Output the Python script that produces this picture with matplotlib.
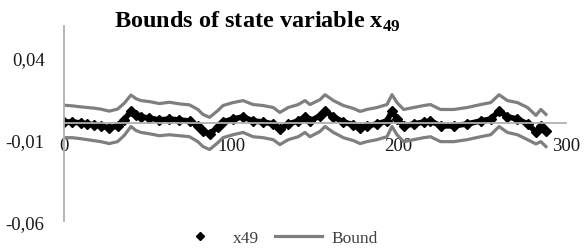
import matplotlib
matplotlib.use('Agg')
import matplotlib.pyplot as plt
from matplotlib.lines import Line2D

plt.rcParams['font.family'] = ['Liberation Serif', 'DejaVu Serif']
plt.rcParams['mathtext.fontset'] = 'custom'
plt.rcParams['mathtext.rm'] = 'Liberation Serif:bold'

# step index and state variable x49 with its bounds
steps = [0, 5, 10, 14, 18, 22, 27, 32, 36, 40, 43, 46, 51, 57, 63, 69, 75, 80, 83, 87,
         92, 95, 101, 107, 113, 119, 125, 129, 134, 140, 144, 147, 153, 156, 161, 167, 173, 177, 181, 187,
         193, 196, 199, 203, 209, 215, 219, 225, 233, 241, 249, 255, 260, 265, 271, 277, 282, 285, 288]
x49 = [0.0006, 0.0006, 0.0000, -0.0006, -0.0012, -0.0018, -0.0030, -0.0018, 0.0020, 0.0073,
       0.0050, 0.0037, 0.0030, 0.0018, 0.0024, 0.0018, 0.0012, -0.0018, -0.0049, -0.0067,
       -0.0024, 0.0006, 0.0024, 0.0037, 0.0012, 0.0006, -0.0006, -0.0037, -0.0006, 0.0012,
       0.0037, 0.0012, 0.0043, 0.0073, 0.0037, 0.0006, -0.0012, -0.0030, -0.0018, -0.0006,
       0.0012, 0.0073, 0.0024, -0.0018, -0.0006, 0.0006, 0.0012, -0.0018, -0.0018, -0.0006,
       0.0012, 0.0024, 0.0073, 0.0037, 0.0024, -0.0006, -0.0055, -0.0018, -0.0049]
upper = [0.0108, 0.0104, 0.0098, 0.0094, 0.0090, 0.0084, 0.0072, 0.0084, 0.0120, 0.0170,
         0.0148, 0.0136, 0.0130, 0.0118, 0.0126, 0.0116, 0.0110, 0.0082, 0.0052, 0.0034,
         0.0076, 0.0106, 0.0124, 0.0136, 0.0112, 0.0106, 0.0094, 0.0064, 0.0094, 0.0112,
         0.0136, 0.0112, 0.0142, 0.0172, 0.0136, 0.0106, 0.0088, 0.0070, 0.0082, 0.0094,
         0.0112, 0.0172, 0.0124, 0.0082, 0.0094, 0.0106, 0.0112, 0.0082, 0.0082, 0.0094,
         0.0112, 0.0124, 0.0172, 0.0136, 0.0124, 0.0094, 0.0046, 0.0082, 0.0052]
lower = [-0.0090, -0.0090, -0.0096, -0.0102, -0.0108, -0.0114, -0.0126, -0.0114, -0.0076, -0.0022,
         -0.0046, -0.0058, -0.0066, -0.0078, -0.0072, -0.0078, -0.0084, -0.0114, -0.0144, -0.0162,
         -0.0120, -0.0090, -0.0072, -0.0058, -0.0084, -0.0090, -0.0102, -0.0132, -0.0102, -0.0084,
         -0.0058, -0.0084, -0.0052, -0.0022, -0.0058, -0.0090, -0.0108, -0.0126, -0.0114, -0.0102,
         -0.0084, -0.0022, -0.0072, -0.0114, -0.0102, -0.0090, -0.0084, -0.0114, -0.0114, -0.0102,
         -0.0084, -0.0072, -0.0022, -0.0058, -0.0072, -0.0102, -0.0128, -0.0114, -0.0144]

xticks = [0, 100, 200, 300]
yticks = [-0.06, -0.01, 0.04]
ytick_labels = ['-0,06', '-0,01', '0,04']

fig = plt.figure(figsize=(5.84, 2.51), dpi=100)
ax = fig.add_axes([0.1096, 0.114, 0.8596, 0.778])

bound_color = '#7f7f7f'
ax.plot(steps, upper, color=bound_color, lw=2.3)
ax.plot(steps, lower, color=bound_color, lw=2.3)
ax.plot(steps, x49, color='black', lw=4)
ax.plot(steps, x49, color='black', lw=0, marker='D', markersize=5)

ax.set_xlim(0, 300)
ax.set_ylim(-0.06, 0.059)
ax.set_xticks(xticks)
ax.set_xticklabels([str(t) for t in xticks])
ax.set_yticks(yticks)
ax.set_yticklabels(ytick_labels)

for s in ['top', 'right']:
    ax.spines[s].set_visible(False)
ax.spines['bottom'].set_position(('data', 0))
for s in ['left', 'bottom']:
    ax.spines[s].set_color('#b0b0b0')
    ax.spines[s].set_linewidth(1.3)
ax.tick_params(axis='both', length=0, labelsize=13.5, colors='#1a1a1a')
ax.tick_params(axis='x', pad=10)
ax.tick_params(axis='y', pad=14)

fig.text(0.44, 0.912, r'Bounds of state variable x$_{\mathrm{49}}$',
         ha='center', va='center', fontsize=17.5, fontweight='bold')

handles = [Line2D([], [], color='black', lw=0, marker='D', markersize=4),
           Line2D([], [], color=bound_color, lw=2.3)]
fig.legend(handles, ['x49', 'Bound'], loc='lower center', bbox_to_anchor=(0.475, -0.045),
           ncol=2, frameon=False, fontsize=12.5, labelcolor='#404040',
           handlelength=2.7, handletextpad=0.55, columnspacing=0.9)

fig.savefig('out.png', dpi=100)
